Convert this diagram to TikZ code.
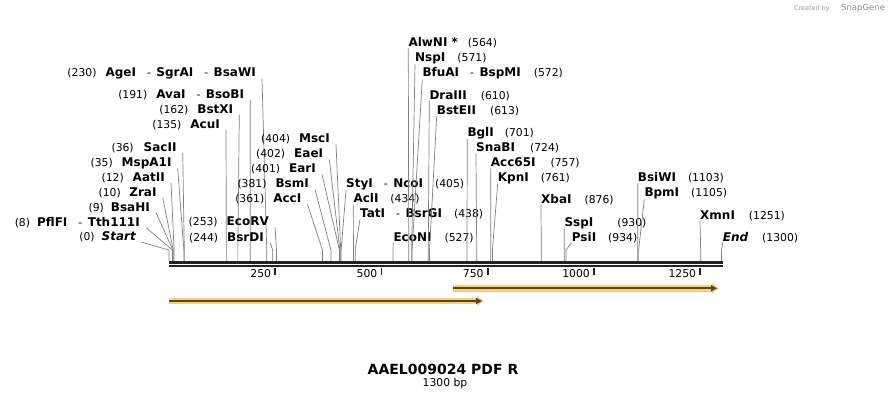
\documentclass[tikz,border=0pt]{standalone}
\usepackage{fontspec}
\setmainfont{DejaVu Sans}
\usetikzlibrary{arrows.meta}
\definecolor{cutgray}{RGB}{128,128,128}
\definecolor{rulerdark}{RGB}{34,34,34}
\definecolor{feathalo}{RGB}{252,206,118}
\definecolor{featline}{RGB}{80,68,50}
\newcommand{\nm}[1]{{\fontsize{12}{13}\selectfont\bfseries #1}}
\newcommand{\nmsep}{\hspace{11pt}-\hspace{5.5pt}}
\begin{document}
\begin{tikzpicture}[x=1pt,y=-1pt,
  every node/.style={inner sep=0pt,font=\fontsize{10.8}{13}\selectfont},
  cut/.style={draw=cutgray,line width=0.7pt},
  ruler/.style={draw=rulerdark},
  tick/.style={draw=rulerdark,line width=1.8pt},
  feature/.style={draw=featline,line width=2.2pt,-{Triangle[length=6pt,width=6pt]},
    preaction={draw=feathalo,line width=6.5pt,-{Triangle[length=7pt,width=10pt]},shorten >=-2pt}}]
\useasboundingbox (0,0) rectangle (892,400);
\foreach \p/\x/\y/\t in {
    0/136/240.7/{(0)\hspace{7pt}\nm{\itshape Start}},
    8/140/226/{(8)\hspace{7pt}\nm{PflFI}\nmsep\nm{Tth111I}},
    9/150/211/{(9)\hspace{7pt}\nm{BsaHI}},
    10/156.7/196/{(10)\hspace{8.5pt}\nm{ZraI}},
    12/165/181/{(12)\hspace{9pt}\nm{AatII}},
    35/171.7/166/{(35)\hspace{9pt}\nm{MspA1I}},
    36/176.7/151/{(36)\hspace{10pt}\nm{SacII}},
    135/220/128/{(135)\hspace{9pt}\nm{AcuI}},
    162/233.3/113.3/{(162)\hspace{9pt}\nm{BstXI}},
    191/244.3/98.3/{(191)\hspace{9pt}\nm{AvaI}\nmsep\nm{BsoBI}},
    230/256/76/{(230)\hspace{9pt}\nm{AgeI}\nmsep\nm{SgrAI}\nmsep\nm{BsaWI}},
    244/264/241/{(244)\hspace{9pt}\nm{BsrDI}},
    253/269/225.7/{(253)\hspace{9pt}\nm{EcoRV}},
    361/301.5/202.7/{(361)\hspace{9pt}\nm{AccI}},
    381/309/187.7/{(381)\hspace{9pt}\nm{BsmI}},
    401/316/172.7/{(401)\hspace{9pt}\nm{EarI}},
    402/323.3/157.7/{(402)\hspace{9pt}\nm{EaeI}},
    404/330/142.7/{(404)\hspace{9pt}\nm{MscI}}}{
  \coordinate (s\p) at ({169+0.425*\p},261);
  \node[anchor=base east] (l\p) at (\x,\y) {\t};
  \draw[cut] ([xshift=6pt]l\p.south east) -- ([yshift=11pt]s\p) -- (s\p);
}
\foreach \p/\x/\y/\t in {
    405/346/187.7/{\nm{StyI}\nmsep\nm{NcoI}\hspace{12pt}(405)},
    434/353.3/202.7/{\nm{AclI}\hspace{12pt}(434)},
    438/360/217.7/{\nm{TatI}\nmsep\nm{BsrGI}\hspace{12pt}(438)},
    527/393.3/241/{\nm{EcoNI}\hspace{13pt}(527)},
    564/408.3/46.7/{\nm{AlwNI *}\hspace{10pt}(564)},
    571/415/61.7/{\nm{NspI}\hspace{12pt}(571)},
    572/422.3/76.7/{\nm{BfuAI}\nmsep\nm{BspMI}\hspace{13pt}(572)},
    610/429.3/99.3/{\nm{DraIII}\hspace{14pt}(610)},
    613/436.7/114.3/{\nm{BstEII}\hspace{14pt}(613)},
    701/467.3/136.3/{\nm{BglI}\hspace{11pt}(701)},
    724/476/151.7/{\nm{SnaBI}\hspace{15pt}(724)},
    757/490.7/166.7/{\nm{Acc65I}\hspace{15pt}(757)},
    761/497.7/181/{\nm{KpnI}\hspace{12pt}(761)},
    876/541/203.3/{\nm{XbaI}\hspace{13pt}(876)},
    930/564.3/226/{\nm{SspI}\hspace{24pt}(930)},
    934/571.7/241/{\nm{PsiI}\hspace{12pt}(934)},
    1103/637.7/181.7/{\nm{BsiWI}\hspace{12pt}(1103)},
    1105/644.3/196.7/{\nm{BpmI}\hspace{12pt}(1105)},
    1251/700/219/{\nm{XmnI}\hspace{14pt}(1251)},
    1300/722.7/241.3/{\nm{\itshape End}\hspace{14pt}(1300)}}{
  \coordinate (s\p) at ({169+0.425*\p},261);
  \node[anchor=base west] (r\p) at (\x,\y) {\t};
  \draw[cut] (r\p.south west) -- ([yshift=11pt]s\p) -- (s\p);
}
\coordinate (rs) at (169,262.2);
\coordinate (re) at (722.7,262.2);
\draw[ruler,line width=2.7pt] (rs) -- (re);
\draw[ruler,line width=2pt] ([yshift=-4.1pt]rs) -- ([yshift=-4.1pt]re);
\foreach \t in {250,500,750,1000,1250}{
  \coordinate (k\t) at ({169+0.425*\t},267.5);
  \draw[tick] (k\t) -- ([yshift=-7pt]k\t);
  \node[anchor=base east] (t\t) at ([xshift=-4pt,yshift=-9.5pt]k\t) {\t};
}
\coordinate (f1s) at (169,301);
\coordinate (f1e) at (482,301);
\coordinate (f2s) at (453,288.3);
\coordinate (f2e) at (717,288.3);
\draw[feature] (f1s) -- (f1e);
\draw[feature] (f2s) -- (f2e);
\node[anchor=base,font=\fontsize{14}{16}\selectfont\bfseries] (title) at (443,374) {AAEL009024 PDF R};
\node[anchor=base] (len) at (445,386.7) {1300 bp};
\node[anchor=base east,font=\fontsize{6.5}{8}\selectfont,text=black!40] (made) at (830,10) {Created by};
\node[anchor=base west,font=\fontsize{8.5}{10}\selectfont,text=black!45] (sg) at (841,10.5) {SnapGene};
\end{tikzpicture}
\end{document}
